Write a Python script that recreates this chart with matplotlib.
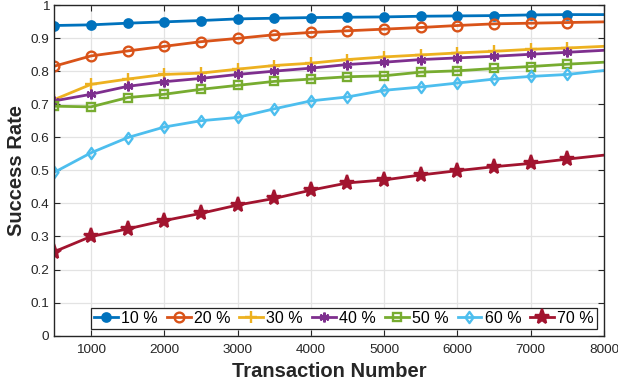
import matplotlib
matplotlib.use('Agg')
import matplotlib.pyplot as plt
from matplotlib.path import Path
from matplotlib.ticker import FuncFormatter

plt.rcParams['font.family'] = ['Liberation Sans', 'DejaVu Sans']

# transaction counts; markers sit on the first 15, the line runs on to 8000
tx = [500, 1000, 1500, 2000, 2500, 3000, 3500, 4000,
      4500, 5000, 5500, 6000, 6500, 7000, 7500, 8000]

rate_10 = [0.938, 0.940, 0.945, 0.949, 0.953, 0.958, 0.960, 0.962,
           0.963, 0.964, 0.966, 0.967, 0.968, 0.970, 0.971, 0.971]
rate_20 = [0.815, 0.846, 0.861, 0.875, 0.889, 0.899, 0.910, 0.917,
           0.922, 0.927, 0.932, 0.938, 0.943, 0.945, 0.947, 0.949]
rate_30 = [0.714, 0.760, 0.776, 0.790, 0.794, 0.806, 0.817, 0.824,
           0.835, 0.843, 0.849, 0.855, 0.860, 0.866, 0.870, 0.875]
rate_40 = [0.710, 0.730, 0.754, 0.768, 0.778, 0.790, 0.800, 0.809,
           0.820, 0.827, 0.835, 0.840, 0.845, 0.851, 0.857, 0.863]
rate_50 = [0.694, 0.692, 0.720, 0.730, 0.745, 0.757, 0.769, 0.776,
           0.783, 0.786, 0.797, 0.801, 0.808, 0.814, 0.821, 0.827]
rate_60 = [0.494, 0.553, 0.599, 0.631, 0.650, 0.660, 0.686, 0.710,
           0.722, 0.742, 0.752, 0.764, 0.776, 0.784, 0.790, 0.802]
rate_70 = [0.254, 0.300, 0.323, 0.348, 0.370, 0.395, 0.415, 0.440,
           0.462, 0.471, 0.486, 0.499, 0.511, 0.521, 0.534, 0.546]

labels = ['10 %', '20 %', '30 %', '40 %', '50 %', '60 %', '70 %']
series = [rate_10, rate_20, rate_30, rate_40, rate_50, rate_60, rate_70]
colors = ['#0072BD', '#D95319', '#EDB120', '#7E2F8E', '#77AC30', '#4DBEEE', '#A2142F']

# a wider diamond than matplotlib's 'd'
diamond = Path([(0, 1), (0.72, 0), (0, -1), (-0.72, 0), (0, 1)],
               [Path.MOVETO, Path.LINETO, Path.LINETO, Path.LINETO, Path.CLOSEPOLY])

# (marker, size, filled)
styles = [('o', 6, True), ('o', 7, False), ('+', 8, False), ((6, 2, 0), 7, False),
          ('s', 6, False), (diamond, 8, False), ('*', 11, True)]

fig = plt.figure(figsize=(6.18, 3.87), dpi=100)
ax = fig.add_axes([54.3 / 618, 1 - 335.7 / 387, (604 - 54.3) / 618, (335.7 - 5) / 387])

for y, lab, c, (m, ms, filled) in zip(series, labels, colors, styles):
    ax.plot(tx, y, color=c, lw=2.0, marker=m, markersize=ms,
            markerfacecolor=c if filled else 'none', markeredgecolor=c,
            markeredgewidth=1.7, markevery=list(range(15)), label=lab)

ax.set_xlim(500, 8000)
ax.set_ylim(0, 1)
ax.set_xticks(range(1000, 8001, 1000))
ax.set_yticks([i / 10 for i in range(11)])
ax.yaxis.set_major_formatter(FuncFormatter(lambda v, p: '%g' % round(v, 1)))

ax.grid(True, color='#e3e3e3', lw=0.9)
ax.set_axisbelow(True)
for s in ax.spines.values():
    s.set_color('#262626')
    s.set_linewidth(1.0)
ax.tick_params(direction='in', length=4, width=0.8, color='#262626',
               top=True, right=True, labelsize=9.7, labelcolor='#262626')
ax.tick_params(axis='x', pad=6)

ax.set_xlabel('Transaction Number', fontsize=14.5, fontweight='bold', color='#262626', labelpad=4)
ax.set_ylabel('Success Rate', fontsize=14.5, fontweight='bold', color='#262626', labelpad=3)

leg = ax.legend(loc='lower left', bbox_to_anchor=(90.7 / 618, 1 - 329 / 387),
                bbox_transform=fig.transFigure, ncol=7, fontsize=11.5,
                handlelength=1.5, handletextpad=0.2, columnspacing=0.56,
                borderpad=0.2, borderaxespad=0, fancybox=False, framealpha=1)
leg.get_frame().set_edgecolor('#262626')
leg.get_frame().set_linewidth(0.9)

fig.savefig('out.png', dpi=100)
